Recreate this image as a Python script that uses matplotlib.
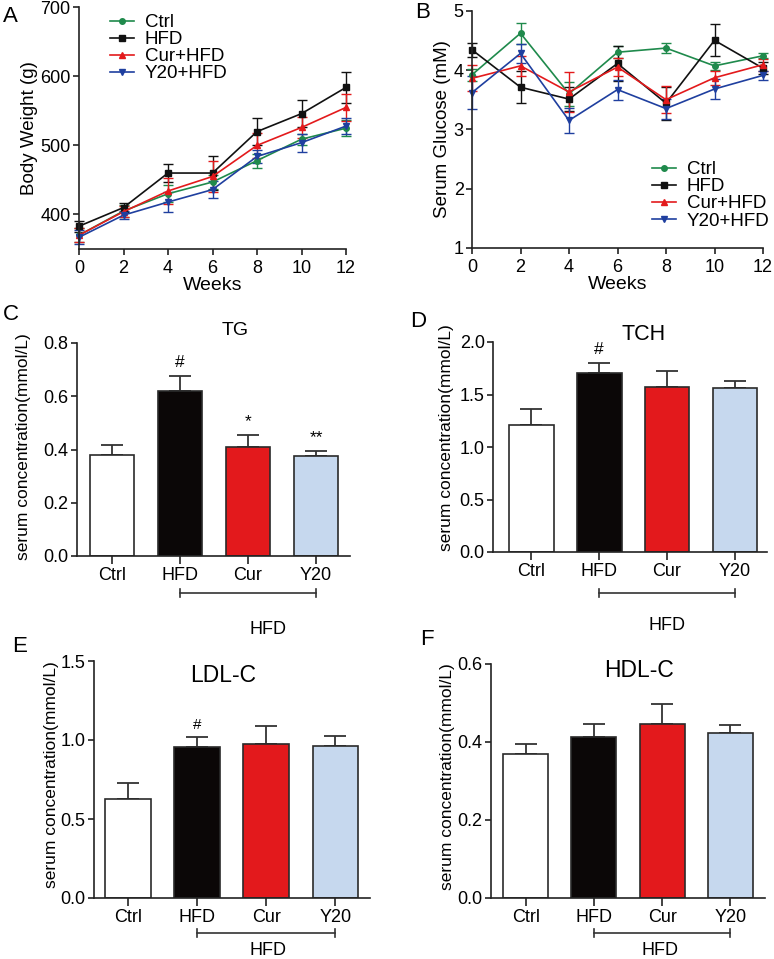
import matplotlib
matplotlib.use("Agg")
import matplotlib.pyplot as plt
from matplotlib.lines import Line2D
import numpy as np

plt.rcParams['font.family'] = ['Liberation Sans', 'DejaVu Sans']

W, H = 774, 959

# ---------------- data ----------------
weeks = [0, 2, 4, 6, 8, 10, 12]
groups_line = ["Ctrl", "HFD", "Cur+HFD", "Y20+HFD"]

bw_ctrl = [370, 405, 430, 447, 478, 509, 525]
bw_hfd = [383, 410, 460, 460, 520, 546, 584]
bw_cur = [370, 404, 434, 455, 500, 526, 555]
bw_y20 = [367, 399, 418, 436, 484, 504, 528]
bw_ctrl_err = [10, 8, 12, 10, 10, 8, 12]
bw_hfd_err = [8, 6, 13, 24, 20, 20, 23]
bw_cur_err = [10, 8, 19, 23, 18, 15, 19]
bw_y20_err = [10, 6, 14, 12, 10, 13, 12]

glu_ctrl = [3.92, 4.62, 3.60, 4.30, 4.37, 4.07, 4.24]
glu_hfd = [4.34, 3.71, 3.51, 4.11, 3.44, 4.50, 4.03]
glu_cur = [3.86, 4.07, 3.63, 4.05, 3.50, 3.87, 4.09]
glu_y20 = [3.62, 4.28, 3.15, 3.67, 3.35, 3.68, 3.91]
glu_ctrl_err = [0.10, 0.18, 0.20, 0.10, 0.08, 0.07, 0.04]
glu_hfd_err = [0.12, 0.27, 0.20, 0.30, 0.28, 0.27, 0.10]
glu_cur_err = [0.22, 0.17, 0.33, 0.15, 0.23, 0.12, 0.10]
glu_y20_err = [0.28, 0.16, 0.21, 0.17, 0.17, 0.17, 0.08]

bar_cats = ["Ctrl", "HFD", "Cur", "Y20"]
tg = [0.379, 0.620, 0.410, 0.376]
tg_err = [0.038, 0.057, 0.045, 0.020]
tch = [1.21, 1.706, 1.567, 1.558]
tch_err = [0.15, 0.094, 0.153, 0.075]
ldl = [0.629, 0.957, 0.976, 0.964]
ldl_err = [0.101, 0.059, 0.112, 0.061]
hdl = [0.370, 0.413, 0.447, 0.424]
hdl_err = [0.025, 0.034, 0.050, 0.020]

tg_sig = ["", "#", "*", "**"]
tch_sig = ["", "#", "", ""]
ldl_sig = ["", "#", "", ""]
hdl_sig = ["", "", "", ""]

line_colors = ["#1f8a4c", "#111111", "#e31a1c", "#1f3f9f"]
line_markers = ["o", "s", "^", "v"]
bar_colors = ["#ffffff", "#0b0707", "#e3191c", "#c6d8ee"]
edge = "#2a2a2a"

fig = plt.figure(figsize=(W / 100, H / 100), dpi=100)


def add_ax(left, right, top, bottom):
    return fig.add_axes([left / W, 1 - bottom / H, (right - left) / W, (bottom - top) / H])


def style(ax, fs):
    for s in ["top", "right"]:
        ax.spines[s].set_visible(False)
    for s in ["left", "bottom"]:
        ax.spines[s].set_linewidth(1.2)
        ax.spines[s].set_color("#222222")
    ax.tick_params(direction="out", length=4, width=1.2, labelsize=fs, color="#222222", pad=2)


def ftext(x, y, s, **kw):
    fig.text(x / W, 1 - y / H, s, **kw)


def line_panel(box, ylim, yticks, series, ylabel, letter, letter_xy, leg_xy):
    ax = add_ax(*box)
    handles = []
    for (vals, errs), c, m, lab in zip(series, line_colors, line_markers, groups_line):
        eb = ax.errorbar(weeks, vals, yerr=errs, color=c, marker=m, ms=4, lw=1.2,
                         elinewidth=1.0, capsize=3.5, capthick=1.0, clip_on=False)
        for art in eb.lines[1] + eb.lines[2]:
            art.set_clip_on(False)
        handles.append(Line2D([], [], color=c, marker=m, ms=4, lw=1.2, label=lab))
    ax.set_xlim(0, 12)
    ax.set_ylim(*ylim)
    ax.set_xticks(weeks)
    ax.set_yticks(yticks)
    style(ax, 13)
    ax.tick_params(axis="x", pad=4)
    ax.set_xlabel("Weeks", fontsize=14, labelpad=0)
    ax.set_ylabel(ylabel, fontsize=13.5, labelpad=2)
    ax.legend(handles=handles, loc="upper left", bbox_to_anchor=(leg_xy[0] / W, 1 - leg_xy[1] / H),
              bbox_transform=fig.transFigure, frameon=False, fontsize=13.5, handlelength=1.3,
              handletextpad=0.55, labelspacing=0.0, borderpad=0, borderaxespad=0)
    ftext(letter_xy[0], letter_xy[1], letter, fontsize=16)
    return ax


line_panel((79, 346, 7.3, 249), (350, 700), [400, 500, 600, 700],
           [(bw_ctrl, bw_ctrl_err), (bw_hfd, bw_hfd_err), (bw_cur, bw_cur_err), (bw_y20, bw_y20_err)],
           "Body Weight (g)", "A", (3, 22), (110, 14))
line_panel((472, 763, 10.7, 248), (1, 5), [1, 2, 3, 4, 5],
           [(glu_ctrl, glu_ctrl_err), (glu_hfd, glu_hfd_err), (glu_cur, glu_cur_err), (glu_y20, glu_y20_err)],
           "Serum Glucose (mM)", "B", (415, 18), (652, 161))


# ---------------- Bar panels ----------------
def bar_panel(box, xlim, ylim, yticks, vals, errs, sig, title, title_xy, title_fs,
              letter, letter_xy, ylab_xy, bracket_y, hfd_xy, sig_fs):
    ax = add_ax(*box)
    x = np.arange(len(bar_cats))
    ax.bar(x, vals, width=0.66, color=bar_colors, edgecolor=edge, linewidth=1.2, zorder=2)
    ax.errorbar(x, vals, yerr=[np.zeros(len(vals)), errs], fmt="none", ecolor="#333333",
                elinewidth=1.3, capsize=8, capthick=1.3, zorder=1)
    ax.set_xlim(*xlim)
    ax.set_ylim(*ylim)
    ax.set_yticks(yticks)
    ax.set_yticklabels([f"{t:.1f}" for t in yticks])
    ax.set_xticks(x)
    ax.set_xticklabels(bar_cats)
    style(ax, 13)
    ax.tick_params(axis="x", length=6, labelsize=13)
    for xi, v, e, s in zip(x, vals, errs, sig):
        if s:
            ax.annotate(s, (xi, v + e), xytext=(0, 4), textcoords="offset points",
                        ha="center", va="bottom", fontsize=sig_fs)
    # bracket
    tr = ax.get_xaxis_transform()
    y0 = -(bracket_y - box[3]) / (box[3] - box[2])
    dy = 4 / (box[3] - box[2])
    ax.plot([1, 3], [y0, y0], transform=tr, color="#333333", lw=1.2, clip_on=False)
    for xe in (1, 3):
        ax.plot([xe, xe], [y0 - dy, y0 + dy], transform=tr, color="#333333", lw=1.2, clip_on=False)
    ftext(hfd_xy[0], hfd_xy[1], "HFD", fontsize=13, ha="center", va="baseline")
    ftext(title_xy[0], title_xy[1], title, fontsize=title_fs, ha="center", va="baseline")
    ftext(letter_xy[0], letter_xy[1], letter, fontsize=16)
    ftext(ylab_xy[0], ylab_xy[1], "serum concentration(mmol/L)", fontsize=12.5, rotation=90,
          ha="center", va="center")
    return ax


bar_panel((77, 350, 343, 556), (-0.515, 3.5), (0, 0.8), [0.0, 0.2, 0.4, 0.6, 0.8],
          tg, tg_err, tg_sig, "TG", (235, 335), 14, "C", (3, 320), (24, 447), 593, (268, 634), 12.5)
bar_panel((493, 767, 342, 552), (-0.56, 3.47), (0, 2.0), [0.0, 0.5, 1.0, 1.5, 2.0],
          tch, tch_err, tch_sig, "TCH", (644, 340), 15.5, "D", (410, 327), (447, 438), 593, (667, 630), 12.5)
bar_panel((94, 370, 661, 898), (-0.49, 3.5), (0, 1.5), [0.0, 0.5, 1.0, 1.5],
          ldl, ldl_err, ldl_sig, "LDL-C", (223, 682), 16.5, "E", (12, 652), (52, 775), 933, (268, 955), 11)
bar_panel((491, 765, 664, 898), (-0.51, 3.51), (0, 0.6), [0.0, 0.2, 0.4, 0.6],
          hdl, hdl_err, hdl_sig, "HDL-C", (639, 677), 16.5, "F", (420, 645), (448, 777), 933, (660, 955), 11)

fig.savefig("out.png", dpi=100)
